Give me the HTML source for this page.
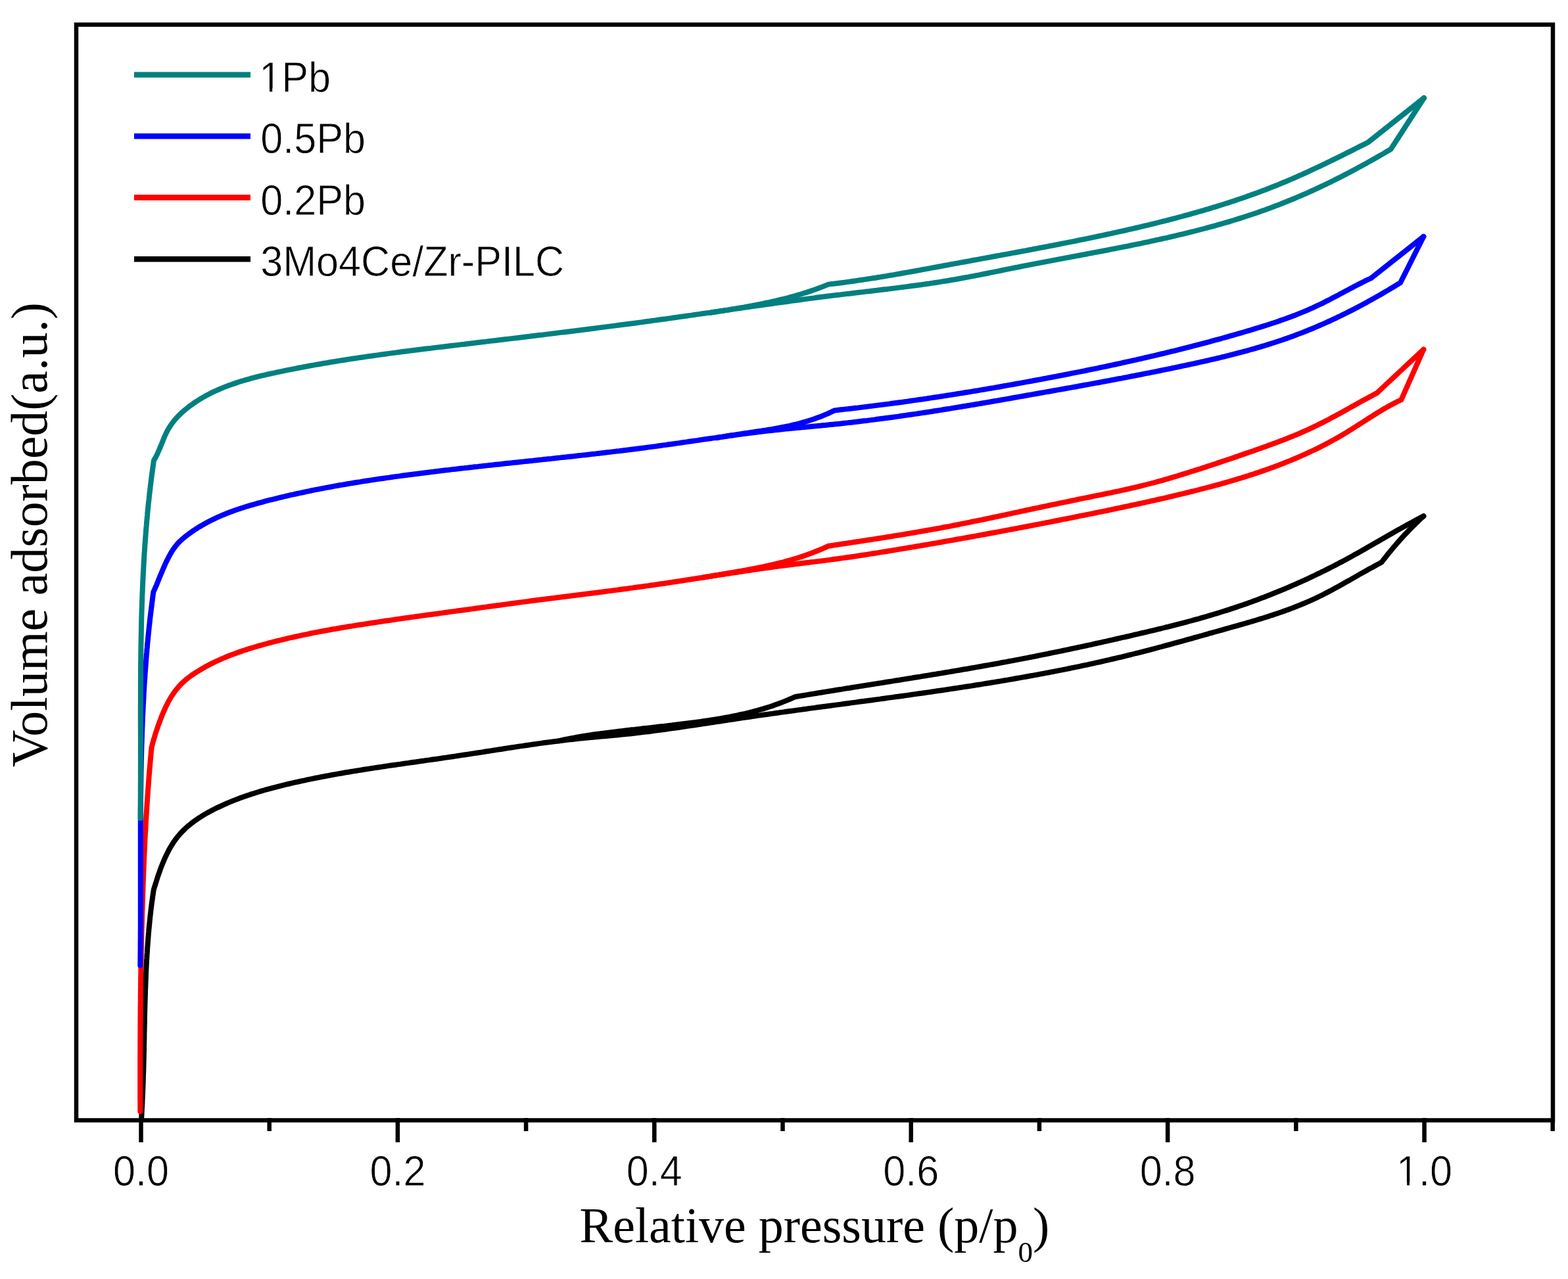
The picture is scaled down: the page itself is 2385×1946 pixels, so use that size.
<!DOCTYPE html>
<html><head><meta charset="utf-8"><title>N2 adsorption isotherms</title>
<style>
html,body{margin:0;padding:0;background:#fff;overflow:hidden;width:2385px;height:1946px;}
svg{display:block;}
.sans{font-family:"Liberation Sans",Arial,sans-serif;}
.serif{font-family:"Liberation Serif","Times New Roman",serif;}
</style></head><body>
<svg width="2385" height="1946" viewBox="0 0 2385 1946">
<rect width="2385" height="1946" fill="#fff"/>
<g fill="none" stroke-width="8" stroke-linejoin="round" stroke-linecap="round">
<path d="M215.0 1703.0L215.3 1699.0 215.5 1695.0 215.7 1691.0 215.9 1686.9 216.2 1682.9 216.4 1678.9 216.5 1674.9 216.7 1670.9 216.9 1666.9 217.1 1662.8 217.2 1658.8 217.4 1654.8 217.5 1650.8 217.7 1646.8 217.8 1642.7 217.9 1638.7 218.0 1634.7 218.2 1630.7 218.3 1626.7 218.4 1622.6 218.5 1618.6 218.6 1614.6 218.7 1610.6 218.8 1606.5 218.9 1602.5 219.0 1598.5 219.0 1594.5 219.1 1590.4 219.2 1586.4 219.3 1582.4 219.4 1578.4 219.4 1574.3 219.5 1570.3 219.6 1566.3 219.7 1562.2 219.8 1558.2 219.9 1554.2 219.9 1550.2 220.0 1546.1 220.1 1542.1 220.2 1538.1 220.3 1534.1 220.4 1530.0 220.5 1526.0 220.6 1522.0 220.8 1518.0 220.9 1513.9 221.0 1509.9 221.1 1505.9 221.3 1501.9 221.4 1497.9 221.6 1493.8 221.7 1489.8 221.9 1485.8 222.0 1481.8 222.2 1477.8 222.4 1473.7 222.6 1469.7 222.8 1465.7 223.0 1461.7 223.3 1457.7 223.5 1453.7 223.8 1449.7 224.0 1445.6 224.3 1441.6 224.6 1437.6 224.9 1433.6 225.2 1429.6 225.5 1425.6 225.8 1421.6 226.2 1417.6 226.5 1413.6 226.9 1409.6 227.3 1405.6 227.7 1401.6 228.1 1397.6 228.5 1393.6 229.0 1389.6 229.4 1385.6 229.9 1381.6 230.4 1377.6 230.9 1373.6 231.5 1369.6 232.0 1365.7 232.6 1361.7 233.2 1357.7 233.8 1353.7 234.9 1350.0 236.1 1346.2 237.3 1342.4 238.5 1338.6 239.7 1334.7 241.0 1330.9 242.4 1327.1 243.7 1323.3 245.1 1319.4 246.6 1315.6 248.1 1311.9 249.7 1308.1 251.4 1304.4 253.1 1300.8 254.9 1297.2 256.7 1293.6 258.7 1290.1 260.7 1286.7 262.8 1283.3 265.0 1280.0 267.3 1276.8 269.7 1273.7 272.2 1270.7 274.8 1267.7 277.5 1264.9 280.3 1262.1 283.2 1259.4 286.1 1256.8 289.2 1254.3 292.3 1251.9 295.4 1249.5 298.7 1247.2 302.0 1244.9 305.3 1242.8 308.7 1240.7 312.1 1238.6 315.6 1236.6 319.2 1234.7 322.7 1232.8 326.3 1231.0 329.9 1229.2 333.6 1227.5 337.2 1225.8 340.9 1224.1 344.6 1222.5 348.3 1220.9 352.0 1219.4 355.7 1217.9 359.4 1216.4 363.2 1215.0 366.9 1213.6 370.7 1212.3 374.5 1210.9 378.2 1209.7 382.0 1208.4 385.8 1207.2 389.7 1206.0 393.5 1204.8 397.3 1203.6 401.2 1202.5 405.0 1201.4 408.9 1200.3 412.7 1199.3 416.6 1198.3 420.4 1197.3 424.3 1196.3 428.2 1195.3 432.1 1194.3 436.0 1193.4 439.9 1192.5 443.8 1191.6 447.7 1190.7 451.6 1189.8 455.5 1189.0 459.4 1188.1 463.3 1187.3 467.2 1186.4 471.1 1185.6 475.0 1184.8 478.9 1184.0 482.9 1183.3 486.8 1182.5 490.7 1181.7 494.6 1181.0 498.6 1180.3 502.5 1179.5 506.4 1178.8 510.4 1178.1 514.3 1177.4 518.2 1176.7 522.2 1176.0 526.1 1175.3 530.0 1174.7 534.0 1174.0 537.9 1173.4 541.9 1172.7 545.8 1172.1 549.8 1171.5 553.7 1170.8 557.7 1170.2 561.6 1169.6 565.6 1169.0 569.5 1168.4 573.5 1167.8 577.4 1167.2 581.4 1166.6 585.4 1166.0 589.3 1165.4 593.3 1164.8 597.2 1164.3 601.2 1163.7 605.1 1163.1 609.1 1162.6 613.1 1162.0 617.0 1161.4 621.0 1160.9 625.0 1160.3 628.9 1159.7 632.9 1159.2 636.8 1158.6 640.8 1158.0 644.8 1157.5 648.7 1156.9 652.7 1156.4 656.7 1155.8 660.6 1155.2 664.6 1154.7 668.6 1154.1 672.5 1153.5 676.5 1152.9 680.4 1152.4 684.4 1151.8 688.4 1151.2 692.3 1150.6 696.3 1150.0 700.2 1149.4 704.2 1148.8 708.2 1148.2 712.1 1147.6 716.1 1147.0 720.0 1146.4 724.0 1145.8 727.9 1145.2 731.9 1144.6 735.8 1144.0 739.8 1143.3 743.8 1142.7 747.7 1142.1 751.7 1141.5 755.6 1140.9 759.6 1140.3 763.5 1139.7 767.5 1139.0 771.4 1138.4 775.4 1137.8 779.3 1137.2 783.3 1136.6 787.3 1136.0 791.2 1135.4 795.2 1134.9 799.1 1134.3 803.1 1133.7 807.0 1133.1 811.0 1132.5 815.0 1132.0 818.9 1131.4 822.9 1130.9 826.8 1130.3 830.8 1129.8 834.8 1129.3 838.7 1128.7 842.7 1128.2 846.7 1127.7 850.6 1127.2 854.6 1126.7 858.6 1126.3 862.5 1125.8 866.5 1125.3 870.5 1124.9 874.4 1124.5 878.4 1124.0 882.4 1123.6 886.4 1123.2 890.3 1122.8 894.3 1122.4 898.3 1122.1 902.3 1121.7 906.3 1121.3 910.2 1121.0 914.2 1120.6 918.2 1120.3 922.2 1119.9 926.2 1119.5 930.1 1119.2 934.1 1118.8 938.1 1118.4 942.1 1118.0 946.1 1117.6 950.0 1117.2 954.0 1116.8 958.0 1116.4 962.0 1116.0 965.9 1115.5 969.9 1115.1 973.9 1114.6 977.8 1114.1 981.8 1113.6 985.8 1113.2 989.7 1112.7 993.7 1112.1 997.7 1111.6 1001.6 1111.1 1005.6 1110.6 1009.6 1110.0 1013.5 1109.5 1017.5 1108.9 1021.5 1108.4 1025.4 1107.8 1029.4 1107.2 1033.3 1106.7 1037.3 1106.1 1041.3 1105.5 1045.2 1104.9 1049.2 1104.3 1053.1 1103.8 1057.1 1103.2 1061.0 1102.6 1065.0 1102.0 1069.0 1101.4 1072.9 1100.8 1076.9 1100.2 1080.8 1099.6 1084.8 1099.0 1088.7 1098.4 1092.7 1097.8 1096.7 1097.2 1100.6 1096.6 1104.6 1096.0 1108.5 1095.4 1112.5 1094.8 1116.5 1094.2 1120.4 1093.6 1124.4 1093.0 1128.3 1092.4 1132.3 1091.8 1136.2 1091.2 1140.2 1090.7 1144.2 1090.1 1148.1 1089.5 1152.1 1088.9 1156.0 1088.4 1160.0 1087.8 1164.0 1087.2 1167.9 1086.7 1171.9 1086.1 1175.9 1085.6 1179.8 1085.0 1183.8 1084.5 1187.7 1083.9 1191.7 1083.4 1195.7 1082.8 1199.6 1082.3 1203.6 1081.7 1207.6 1081.2 1211.5 1080.6 1215.5 1080.1 1219.4 1079.6 1223.4 1079.0 1227.4 1078.5 1231.3 1077.9 1235.3 1077.4 1239.3 1076.9 1243.2 1076.3 1247.2 1075.8 1251.1 1075.3 1255.1 1074.7 1259.1 1074.2 1263.0 1073.7 1267.0 1073.1 1271.0 1072.6 1274.9 1072.1 1278.9 1071.6 1282.9 1071.0 1286.8 1070.5 1290.8 1070.0 1294.8 1069.4 1298.7 1068.9 1302.7 1068.4 1306.6 1067.8 1310.6 1067.3 1314.6 1066.8 1318.5 1066.2 1322.5 1065.7 1326.5 1065.2 1330.4 1064.6 1334.4 1064.1 1338.4 1063.6 1342.3 1063.0 1346.3 1062.5 1350.2 1061.9 1354.2 1061.4 1358.2 1060.9 1362.1 1060.3 1366.1 1059.8 1370.1 1059.2 1374.0 1058.7 1378.0 1058.1 1381.9 1057.6 1385.9 1057.0 1389.9 1056.4 1393.8 1055.9 1397.8 1055.3 1401.8 1054.8 1405.7 1054.2 1409.7 1053.6 1413.6 1053.1 1417.6 1052.5 1421.6 1051.9 1425.5 1051.3 1429.5 1050.8 1433.4 1050.2 1437.4 1049.6 1441.4 1049.0 1445.3 1048.4 1449.3 1047.8 1453.2 1047.2 1457.2 1046.6 1461.1 1046.0 1465.1 1045.4 1469.1 1044.8 1473.0 1044.2 1477.0 1043.6 1480.9 1043.0 1484.9 1042.3 1488.8 1041.7 1492.8 1041.1 1496.7 1040.4 1500.7 1039.8 1504.6 1039.2 1508.6 1038.5 1512.5 1037.9 1516.5 1037.2 1520.4 1036.6 1524.4 1035.9 1528.3 1035.2 1532.3 1034.6 1536.2 1033.9 1540.2 1033.2 1544.1 1032.5 1548.1 1031.8 1552.0 1031.1 1556.0 1030.4 1559.9 1029.7 1563.8 1029.0 1567.8 1028.3 1571.7 1027.6 1575.7 1026.9 1579.6 1026.2 1583.5 1025.4 1587.5 1024.7 1591.4 1023.9 1595.3 1023.2 1599.3 1022.4 1603.2 1021.7 1607.1 1020.9 1611.0 1020.1 1615.0 1019.4 1618.9 1018.6 1622.8 1017.8 1626.7 1017.0 1630.6 1016.2 1634.6 1015.4 1638.5 1014.6 1642.4 1013.8 1646.3 1012.9 1650.2 1012.1 1654.1 1011.3 1658.0 1010.4 1662.0 1009.6 1665.9 1008.7 1669.8 1007.8 1673.7 1007.0 1677.6 1006.1 1681.5 1005.2 1685.4 1004.3 1689.3 1003.4 1693.2 1002.5 1697.0 1001.6 1700.9 1000.7 1704.8 999.8 1708.7 998.8 1712.6 997.9 1716.5 996.9 1720.4 996.0 1724.2 995.0 1728.1 994.0 1732.0 993.1 1735.9 992.1 1739.7 991.1 1743.6 990.1 1747.5 989.1 1751.3 988.1 1755.2 987.1 1759.1 986.0 1762.9 985.0 1766.8 984.0 1770.7 982.9 1774.5 981.9 1778.4 980.8 1782.2 979.8 1786.1 978.7 1790.0 977.7 1793.8 976.6 1797.7 975.6 1801.5 974.5 1805.4 973.4 1809.2 972.4 1813.1 971.3 1816.9 970.2 1820.8 969.1 1824.7 968.0 1828.5 967.0 1832.4 965.9 1836.2 964.8 1840.1 963.7 1843.9 962.6 1847.8 961.5 1851.6 960.5 1855.5 959.4 1859.4 958.3 1863.2 957.2 1867.1 956.1 1870.9 955.0 1874.8 953.9 1878.6 952.9 1882.5 951.8 1886.4 950.7 1890.2 949.6 1894.1 948.5 1897.9 947.4 1901.8 946.2 1905.6 945.1 1909.5 944.0 1913.3 942.8 1917.1 941.6 1920.9 940.5 1924.8 939.3 1928.6 938.1 1932.4 936.8 1936.2 935.6 1940.0 934.3 1943.8 933.1 1947.5 931.8 1951.3 930.4 1955.1 929.1 1958.8 927.7 1962.6 926.4 1966.3 924.9 1970.0 923.5 1973.7 922.0 1977.4 920.6 1981.1 919.0 1984.8 917.5 1988.5 915.9 1992.1 914.3 1995.8 912.7 1999.4 911.0 2003.0 909.3 2006.6 907.5 2010.2 905.8 2013.8 904.0 2017.3 902.1 2020.9 900.3 2024.4 898.4 2028.0 896.5 2031.5 894.6 2035.0 892.7 2038.5 890.7 2042.0 888.8 2045.5 886.8 2049.0 884.8 2052.5 882.9 2056.0 880.9 2059.5 878.9 2063.0 876.9 2066.4 874.9 2069.9 872.9 2073.4 871.0 2076.9 869.0 2080.4 867.0 2083.9 865.1 2087.4 863.2 2090.9 861.2 2094.4 859.3 2097.9 857.5 2101.4 855.6 2103.9 852.3 2106.5 849.1 2109.0 845.8 2111.6 842.6 2114.2 839.4 2116.8 836.2 2119.5 833.0 2122.2 829.9 2124.9 826.7 2127.6 823.6 2130.4 820.5 2133.1 817.5 2135.9 814.4 2138.8 811.4 2141.6 808.4 2144.5 805.4 2147.4 802.5 2150.3 799.6 2153.3 796.7 2156.2 793.8 2159.2 790.9 2162.3 788.1 2165.3 785.3" stroke="#000000"/>
<path d="M2165.3 785.3L2161.7 787.1 2158.2 789.0 2154.6 790.9 2151.1 792.8 2147.6 794.7 2144.1 796.6 2140.5 798.5 2137.0 800.4 2133.5 802.4 2130.0 804.4 2126.5 806.3 2123.0 808.3 2119.6 810.3 2116.1 812.3 2112.6 814.3 2109.1 816.3 2105.6 818.3 2102.1 820.3 2098.7 822.3 2095.2 824.3 2091.7 826.3 2088.2 828.3 2084.7 830.3 2081.2 832.3 2077.8 834.3 2074.3 836.3 2070.8 838.3 2067.3 840.2 2063.8 842.2 2060.3 844.1 2056.8 846.1 2053.3 848.0 2049.7 850.0 2046.2 851.9 2042.7 853.8 2039.1 855.6 2035.6 857.5 2032.0 859.4 2028.5 861.2 2024.9 863.0 2021.3 864.9 2017.7 866.7 2014.2 868.5 2010.6 870.2 2007.0 872.0 2003.3 873.7 1999.7 875.5 1996.1 877.2 1992.5 878.9 1988.9 880.6 1985.2 882.3 1981.6 883.9 1977.9 885.6 1974.3 887.2 1970.6 888.8 1966.9 890.4 1963.3 892.0 1959.6 893.6 1955.9 895.2 1952.2 896.7 1948.5 898.3 1944.8 899.8 1941.1 901.3 1937.4 902.8 1933.7 904.3 1929.9 905.8 1926.2 907.2 1922.5 908.7 1918.7 910.1 1915.0 911.5 1911.2 912.9 1907.5 914.3 1903.7 915.7 1899.9 917.0 1896.2 918.4 1892.4 919.7 1888.6 921.0 1884.8 922.3 1881.0 923.6 1877.2 924.9 1873.4 926.1 1869.6 927.4 1865.8 928.6 1862.0 929.8 1858.1 931.0 1854.3 932.2 1850.5 933.4 1846.6 934.5 1842.8 935.7 1838.9 936.8 1835.1 938.0 1831.2 939.1 1827.4 940.2 1823.5 941.3 1819.6 942.3 1815.8 943.4 1811.9 944.5 1808.0 945.5 1804.1 946.6 1800.3 947.6 1796.4 948.6 1792.5 949.6 1788.6 950.6 1784.7 951.6 1780.8 952.6 1776.9 953.6 1773.0 954.5 1769.1 955.5 1765.2 956.5 1761.3 957.4 1757.4 958.4 1753.5 959.3 1749.6 960.2 1745.7 961.2 1741.8 962.1 1737.8 963.0 1733.9 963.9 1730.0 964.8 1726.1 965.7 1722.2 966.7 1718.3 967.6 1714.4 968.5 1710.5 969.4 1706.5 970.2 1702.6 971.1 1698.7 972.0 1694.8 972.9 1690.9 973.8 1687.0 974.7 1683.1 975.6 1679.1 976.4 1675.2 977.3 1671.3 978.2 1667.4 979.0 1663.5 979.9 1659.6 980.8 1655.7 981.6 1651.7 982.5 1647.8 983.3 1643.9 984.2 1640.0 985.0 1636.1 985.8 1632.1 986.7 1628.2 987.5 1624.3 988.3 1620.4 989.2 1616.5 990.0 1612.5 990.8 1608.6 991.6 1604.7 992.4 1600.8 993.2 1596.8 994.0 1592.9 994.8 1589.0 995.6 1585.1 996.4 1581.1 997.2 1577.2 998.0 1573.3 998.8 1569.3 999.6 1565.4 1000.3 1561.5 1001.1 1557.5 1001.9 1553.6 1002.6 1549.7 1003.4 1545.7 1004.1 1541.8 1004.9 1537.9 1005.6 1533.9 1006.3 1530.0 1007.1 1526.0 1007.8 1522.1 1008.5 1518.1 1009.3 1514.2 1010.0 1510.3 1010.7 1506.3 1011.4 1502.4 1012.1 1498.4 1012.8 1494.5 1013.5 1490.5 1014.2 1486.6 1014.9 1482.6 1015.6 1478.7 1016.3 1474.7 1017.0 1470.7 1017.7 1466.8 1018.3 1462.8 1019.0 1458.9 1019.7 1454.9 1020.4 1451.0 1021.0 1447.0 1021.7 1443.1 1022.4 1439.1 1023.0 1435.1 1023.7 1431.2 1024.4 1427.2 1025.0 1423.3 1025.7 1419.3 1026.3 1415.3 1027.0 1411.4 1027.6 1407.4 1028.3 1403.5 1028.9 1399.5 1029.6 1395.5 1030.2 1391.6 1030.8 1387.6 1031.5 1383.6 1032.1 1379.7 1032.8 1375.7 1033.4 1371.8 1034.0 1367.8 1034.7 1363.8 1035.3 1359.9 1035.9 1355.9 1036.6 1351.9 1037.2 1348.0 1037.8 1344.0 1038.5 1340.0 1039.1 1336.1 1039.7 1332.1 1040.4 1328.2 1041.0 1324.2 1041.6 1320.2 1042.3 1316.3 1042.9 1312.3 1043.5 1308.3 1044.1 1304.4 1044.8 1300.4 1045.4 1296.5 1046.0 1292.5 1046.7 1288.5 1047.3 1284.6 1047.9 1280.6 1048.6 1276.6 1049.2 1272.7 1049.8 1268.7 1050.5 1264.8 1051.1 1260.8 1051.8 1256.9 1052.4 1252.9 1053.0 1248.9 1053.7 1245.0 1054.3 1241.0 1055.0 1237.1 1055.6 1233.1 1056.3 1229.2 1056.9 1225.2 1057.6 1221.3 1058.2 1217.3 1058.9 1213.4 1059.5 1209.4 1060.2 1205.7 1061.9 1202.0 1063.5 1198.2 1065.1 1194.5 1066.6 1190.7 1068.1 1187.0 1069.6 1183.2 1071.0 1179.4 1072.3 1175.6 1073.7 1171.8 1075.0 1167.9 1076.2 1164.1 1077.4 1160.3 1078.6 1156.4 1079.7 1152.5 1080.8 1148.6 1081.8 1144.8 1082.9 1140.9 1083.9 1137.0 1084.8 1133.1 1085.8 1129.1 1086.7 1125.2 1087.5 1121.3 1088.4 1117.3 1089.2 1113.4 1090.0 1109.4 1090.8 1105.5 1091.5 1101.5 1092.2 1097.5 1092.9 1093.6 1093.6 1089.6 1094.3 1085.6 1094.9 1081.6 1095.5 1077.6 1096.1 1073.7 1096.7 1069.7 1097.3 1065.7 1097.9 1061.7 1098.4 1057.7 1099.0 1053.7 1099.5 1049.6 1100.0 1045.6 1100.5 1041.6 1101.0 1037.6 1101.5 1033.6 1102.0 1029.6 1102.5 1025.6 1103.0 1021.6 1103.5 1017.6 1103.9 1013.6 1104.4 1009.6 1104.9 1005.5 1105.3 1001.5 1105.8 997.5 1106.3 993.5 1106.7 989.5 1107.2 985.5 1107.6 981.5 1108.1 977.5 1108.5 973.5 1109.0 969.4 1109.4 965.4 1109.9 961.4 1110.3 957.4 1110.8 953.4 1111.2 949.4 1111.7 945.4 1112.2 941.4 1112.6 937.4 1113.1 933.4 1113.6 929.4 1114.1 925.4 1114.6 921.4 1115.1 917.4 1115.6 913.4 1116.1 909.4 1116.6 905.4 1117.2 901.5 1117.8 897.5 1118.4 893.5 1119.0 889.5 1119.6 885.6 1120.3 881.6 1120.9 877.6 1121.6 873.7 1122.4 869.7 1123.1 865.8 1123.9 861.8 1124.7 857.9 1125.5 853.9 1126.4 850.0 1127.3" stroke="#000000"/>
<path d="M213.3 1691.0L213.3 1687.0 213.3 1683.0 213.3 1679.0 213.3 1674.9 213.2 1670.9 213.2 1666.9 213.2 1662.9 213.2 1658.9 213.2 1654.9 213.2 1650.8 213.2 1646.8 213.2 1642.8 213.2 1638.8 213.2 1634.8 213.2 1630.7 213.2 1626.7 213.2 1622.7 213.2 1618.7 213.2 1614.7 213.2 1610.7 213.2 1606.6 213.2 1602.6 213.3 1598.6 213.3 1594.6 213.3 1590.6 213.3 1586.5 213.3 1582.5 213.3 1578.5 213.4 1574.5 213.4 1570.5 213.4 1566.5 213.4 1562.4 213.4 1558.4 213.5 1554.4 213.5 1550.4 213.5 1546.4 213.6 1542.3 213.6 1538.3 213.6 1534.3 213.7 1530.3 213.7 1526.3 213.8 1522.2 213.8 1518.2 213.8 1514.2 213.9 1510.2 213.9 1506.2 214.0 1502.2 214.0 1498.1 214.1 1494.1 214.1 1490.1 214.2 1486.1 214.3 1482.1 214.3 1478.0 214.4 1474.0 214.5 1470.0 214.5 1466.0 214.6 1462.0 214.7 1457.9 214.7 1453.9 214.8 1449.9 214.9 1445.9 215.0 1441.9 215.1 1437.9 215.1 1433.8 215.2 1429.8 215.3 1425.8 215.4 1421.8 215.5 1417.8 215.6 1413.7 215.7 1409.7 215.8 1405.7 215.9 1401.7 216.0 1397.7 216.1 1393.7 216.2 1389.6 216.3 1385.6 216.5 1381.6 216.6 1377.6 216.7 1373.6 216.8 1369.5 217.0 1365.5 217.1 1361.5 217.2 1357.5 217.4 1353.5 217.5 1349.5 217.6 1345.5 217.8 1341.4 217.9 1337.4 218.1 1333.4 218.2 1329.4 218.4 1325.4 218.6 1321.4 218.7 1317.3 218.9 1313.3 219.0 1309.3 219.2 1305.3 219.4 1301.3 219.6 1297.3 219.8 1293.3 219.9 1289.2 220.1 1285.2 220.3 1281.2 220.5 1277.2 220.7 1273.2 220.9 1269.2 221.2 1265.2 221.4 1261.2 221.6 1257.2 221.8 1253.1 222.0 1249.1 222.3 1245.1 222.5 1241.1 222.8 1237.1 223.0 1233.1 223.3 1229.1 223.5 1225.1 223.8 1221.1 224.0 1217.1 224.3 1213.1 224.6 1209.0 224.9 1205.0 225.2 1201.0 225.5 1197.0 225.8 1193.0 226.1 1189.0 226.4 1185.0 226.7 1181.0 227.0 1177.0 227.4 1173.0 227.7 1169.0 228.0 1165.0 228.4 1161.0 228.7 1157.0 229.1 1153.0 229.5 1149.0 229.8 1145.0 230.2 1141.0 230.6 1137.0 231.6 1133.2 232.6 1129.3 233.7 1125.5 234.9 1121.7 236.0 1117.9 237.2 1114.1 238.5 1110.3 239.8 1106.5 241.1 1102.7 242.5 1099.0 243.9 1095.2 245.3 1091.5 246.8 1087.7 248.4 1084.0 250.0 1080.3 251.6 1076.7 253.4 1073.0 255.2 1069.4 257.1 1065.9 259.1 1062.4 261.2 1059.0 263.4 1055.7 265.7 1052.4 268.1 1049.3 270.6 1046.2 273.3 1043.2 276.0 1040.3 278.9 1037.6 281.8 1034.9 284.9 1032.4 288.1 1030.0 291.3 1027.6 294.6 1025.4 298.0 1023.2 301.3 1021.1 304.8 1019.0 308.2 1017.0 311.7 1015.0 315.2 1013.1 318.7 1011.2 322.3 1009.4 325.8 1007.7 329.4 1006.0 333.1 1004.3 336.7 1002.7 340.4 1001.1 344.1 999.5 347.8 998.0 351.5 996.6 355.3 995.2 359.1 993.8 362.8 992.4 366.6 991.1 370.4 989.8 374.3 988.6 378.1 987.3 381.9 986.1 385.8 985.0 389.6 983.8 393.5 982.7 397.4 981.6 401.3 980.5 405.1 979.5 409.0 978.4 412.9 977.4 416.8 976.4 420.7 975.4 424.6 974.5 428.5 973.5 432.4 972.6 436.3 971.6 440.2 970.7 444.1 969.9 448.0 969.0 451.9 968.1 455.8 967.3 459.7 966.4 463.6 965.6 467.5 964.8 471.4 964.0 475.3 963.2 479.3 962.4 483.2 961.7 487.1 960.9 491.0 960.2 494.9 959.5 498.9 958.8 502.8 958.0 506.7 957.3 510.7 956.7 514.6 956.0 518.5 955.3 522.5 954.6 526.4 954.0 530.3 953.3 534.3 952.7 538.2 952.1 542.2 951.4 546.1 950.8 550.1 950.2 554.0 949.6 558.0 949.0 561.9 948.4 565.9 947.8 569.8 947.2 573.8 946.6 577.7 946.0 581.7 945.4 585.6 944.8 589.6 944.2 593.6 943.7 597.5 943.1 601.5 942.5 605.5 941.9 609.4 941.4 613.4 940.8 617.3 940.3 621.3 939.7 625.3 939.1 629.2 938.6 633.2 938.0 637.2 937.5 641.2 936.9 645.1 936.4 649.1 935.8 653.1 935.3 657.0 934.7 661.0 934.2 665.0 933.7 668.9 933.1 672.9 932.6 676.9 932.0 680.8 931.5 684.8 930.9 688.8 930.4 692.8 929.9 696.7 929.3 700.7 928.8 704.7 928.2 708.6 927.7 712.6 927.2 716.6 926.6 720.5 926.1 724.5 925.5 728.4 925.0 732.4 924.4 736.4 923.9 740.3 923.4 744.3 922.8 748.3 922.3 752.2 921.7 756.2 921.2 760.2 920.7 764.1 920.1 768.1 919.6 772.0 919.1 776.0 918.5 780.0 918.0 783.9 917.5 787.9 916.9 791.9 916.4 795.8 915.9 799.8 915.4 803.8 914.9 807.7 914.3 811.7 913.8 815.7 913.3 819.6 912.8 823.6 912.3 827.6 911.8 831.5 911.3 835.5 910.8 839.5 910.3 843.5 909.8 847.4 909.2 851.4 908.7 855.4 908.2 859.3 907.7 863.3 907.2 867.3 906.7 871.3 906.2 875.2 905.7 879.2 905.2 883.2 904.7 887.1 904.2 891.1 903.7 895.1 903.2 899.1 902.7 903.0 902.2 907.0 901.7 911.0 901.2 915.0 900.7 918.9 900.2 922.9 899.6 926.9 899.1 930.8 898.6 934.8 898.1 938.8 897.6 942.7 897.0 946.7 896.5 950.7 896.0 954.7 895.5 958.6 894.9 962.6 894.4 966.6 893.8 970.5 893.3 974.5 892.7 978.5 892.2 982.4 891.6 986.4 891.1 990.3 890.5 994.3 890.0 998.3 889.4 1002.2 888.8 1006.2 888.2 1010.2 887.7 1014.1 887.1 1018.1 886.5 1022.0 885.9 1026.0 885.3 1030.0 884.7 1033.9 884.1 1037.9 883.5 1041.8 882.9 1045.8 882.3 1049.7 881.7 1053.7 881.0 1057.6 880.4 1061.6 879.8 1065.6 879.2 1069.5 878.6 1073.5 878.0 1077.4 877.4 1081.4 876.7 1085.3 876.1 1089.3 875.5 1093.2 874.9 1097.2 874.3 1101.2 873.7 1105.1 873.1 1109.1 872.5 1113.0 871.9 1117.0 871.3 1120.9 870.7 1124.9 870.1 1128.8 869.5 1132.8 868.9 1136.8 868.3 1140.7 867.7 1144.7 867.1 1148.6 866.5 1152.6 866.0 1156.6 865.4 1160.5 864.8 1164.5 864.3 1168.4 863.7 1172.4 863.2 1176.4 862.6 1180.3 862.1 1184.3 861.5 1188.3 861.0 1192.2 860.5 1196.2 860.0 1200.2 859.5 1204.1 859.0 1208.1 858.5 1212.1 858.0 1216.1 857.5 1220.0 857.0 1224.0 856.5 1228.0 856.0 1232.0 855.5 1235.9 855.1 1239.9 854.6 1243.9 854.1 1247.8 853.6 1251.8 853.1 1255.8 852.6 1259.8 852.1 1263.7 851.6 1267.7 851.0 1271.7 850.5 1275.6 850.0 1279.6 849.4 1283.5 848.9 1287.5 848.3 1291.5 847.7 1295.4 847.2 1299.4 846.6 1303.3 846.0 1307.3 845.4 1311.3 844.8 1315.2 844.2 1319.2 843.6 1323.1 842.9 1327.1 842.3 1331.0 841.7 1335.0 841.1 1338.9 840.4 1342.9 839.8 1346.8 839.2 1350.8 838.5 1354.7 837.9 1358.7 837.2 1362.6 836.6 1366.6 835.9 1370.5 835.3 1374.5 834.6 1378.4 834.0 1382.4 833.3 1386.3 832.6 1390.3 832.0 1394.2 831.3 1398.2 830.6 1402.1 830.0 1406.1 829.3 1410.0 828.6 1414.0 827.9 1417.9 827.3 1421.9 826.6 1425.8 825.9 1429.7 825.2 1433.7 824.5 1437.6 823.8 1441.6 823.1 1445.5 822.4 1449.5 821.7 1453.4 821.0 1457.3 820.3 1461.3 819.6 1465.2 818.9 1469.2 818.2 1473.1 817.5 1477.1 816.8 1481.0 816.1 1484.9 815.4 1488.9 814.7 1492.8 813.9 1496.7 813.2 1500.7 812.5 1504.6 811.8 1508.6 811.0 1512.5 810.3 1516.4 809.6 1520.4 808.9 1524.3 808.1 1528.2 807.4 1532.2 806.6 1536.1 805.9 1540.0 805.2 1544.0 804.4 1547.9 803.7 1551.8 802.9 1555.8 802.2 1559.7 801.4 1563.6 800.7 1567.6 799.9 1571.5 799.2 1575.4 798.4 1579.4 797.6 1583.3 796.9 1587.2 796.1 1591.1 795.3 1595.1 794.6 1599.0 793.8 1602.9 793.0 1606.8 792.3 1610.8 791.5 1614.7 790.7 1618.6 789.9 1622.5 789.2 1626.5 788.4 1630.4 787.6 1634.3 786.8 1638.2 786.0 1642.2 785.2 1646.1 784.4 1650.0 783.7 1653.9 782.9 1657.8 782.1 1661.8 781.3 1665.7 780.5 1669.6 779.7 1673.5 778.9 1677.4 778.1 1681.4 777.3 1685.3 776.5 1689.2 775.7 1693.1 774.8 1697.0 774.0 1700.9 773.2 1704.8 772.4 1708.8 771.5 1712.7 770.7 1716.6 769.9 1720.5 769.0 1724.4 768.2 1728.3 767.4 1732.2 766.5 1736.1 765.7 1740.0 764.8 1744.0 763.9 1747.9 763.1 1751.8 762.2 1755.7 761.3 1759.6 760.4 1763.5 759.5 1767.4 758.7 1771.3 757.8 1775.2 756.9 1779.1 755.9 1783.0 755.0 1786.9 754.1 1790.8 753.2 1794.7 752.2 1798.6 751.3 1802.5 750.4 1806.4 749.4 1810.3 748.4 1814.2 747.5 1818.1 746.5 1822.0 745.5 1825.8 744.5 1829.7 743.5 1833.6 742.5 1837.5 741.5 1841.4 740.5 1845.3 739.4 1849.1 738.4 1853.0 737.3 1856.9 736.3 1860.7 735.2 1864.6 734.1 1868.4 733.0 1872.3 731.9 1876.1 730.7 1880.0 729.6 1883.8 728.4 1887.7 727.3 1891.5 726.1 1895.3 724.9 1899.1 723.7 1902.9 722.4 1906.8 721.2 1910.6 719.9 1914.3 718.7 1918.1 717.4 1921.9 716.1 1925.7 714.8 1929.5 713.4 1933.2 712.1 1937.0 710.7 1940.7 709.3 1944.5 707.9 1948.2 706.5 1951.9 705.0 1955.6 703.5 1959.3 702.1 1963.0 700.6 1966.7 699.0 1970.4 697.5 1974.1 695.9 1977.7 694.3 1981.4 692.7 1985.0 691.1 1988.7 689.4 1992.3 687.7 1995.9 686.0 1999.5 684.3 2003.1 682.6 2006.7 680.8 2010.2 679.0 2013.8 677.2 2017.3 675.3 2020.9 673.5 2024.4 671.6 2027.9 669.6 2031.4 667.7 2034.9 665.7 2038.4 663.7 2041.8 661.7 2045.3 659.6 2048.7 657.6 2052.1 655.4 2055.5 653.3 2058.9 651.2 2062.3 649.0 2065.7 646.8 2069.1 644.7 2072.5 642.5 2075.9 640.3 2079.3 638.1 2082.7 635.9 2086.1 633.8 2089.5 631.6 2092.9 629.5 2096.3 627.4 2099.7 625.3 2103.1 623.3 2106.6 621.2 2110.1 619.3 2113.6 617.3 2117.1 615.4 2120.6 613.6 2124.1 611.7 2127.7 610.0 2131.3 608.3 2165.3 531.7" stroke="#FF0000"/>
<path d="M2165.3 531.7L2094.5 597.9 2090.9 599.8 2087.4 601.7 2083.8 603.6 2080.3 605.5 2076.8 607.4 2073.3 609.3 2069.7 611.3 2066.2 613.2 2062.7 615.2 2059.2 617.2 2055.7 619.1 2052.2 621.1 2048.7 623.0 2045.2 625.0 2041.7 626.9 2038.1 628.9 2034.6 630.8 2031.1 632.7 2027.6 634.6 2024.0 636.5 2020.5 638.4 2016.9 640.3 2013.4 642.1 2009.8 643.9 2006.2 645.7 2002.6 647.5 1999.0 649.2 1995.4 650.9 1991.8 652.6 1988.1 654.3 1984.5 655.9 1980.8 657.5 1977.2 659.1 1973.5 660.7 1969.8 662.2 1966.1 663.8 1962.3 665.3 1958.6 666.7 1954.9 668.2 1951.1 669.7 1947.4 671.1 1943.6 672.5 1939.9 673.9 1936.1 675.3 1932.3 676.7 1928.6 678.1 1924.8 679.5 1921.0 680.8 1917.2 682.2 1913.4 683.5 1909.6 684.8 1905.8 686.2 1902.0 687.5 1898.2 688.8 1894.4 690.1 1890.6 691.4 1886.8 692.7 1883.0 694.1 1879.2 695.4 1875.4 696.7 1871.6 698.0 1867.8 699.3 1864.0 700.5 1860.1 701.8 1856.3 703.1 1852.5 704.4 1848.7 705.7 1844.9 706.9 1841.0 708.2 1837.2 709.4 1833.4 710.7 1829.6 711.9 1825.8 713.2 1821.9 714.4 1818.1 715.6 1814.3 716.8 1810.4 718.0 1806.6 719.3 1802.8 720.4 1798.9 721.6 1795.1 722.8 1791.3 724.0 1787.4 725.1 1783.6 726.3 1779.7 727.4 1775.9 728.6 1772.0 729.7 1768.2 730.8 1764.3 731.9 1760.4 732.9 1756.6 734.0 1752.7 735.0 1748.8 736.0 1744.9 737.0 1741.0 738.0 1737.2 739.0 1733.3 739.9 1729.4 740.9 1725.5 741.8 1721.5 742.7 1717.6 743.6 1713.7 744.5 1709.8 745.3 1705.9 746.2 1702.0 747.1 1698.0 747.9 1694.1 748.7 1690.2 749.6 1686.2 750.4 1682.3 751.2 1678.4 752.0 1674.4 752.8 1670.5 753.6 1666.6 754.4 1662.6 755.2 1658.7 756.0 1654.8 756.8 1650.8 757.6 1646.9 758.4 1642.9 759.2 1639.0 760.0 1635.1 760.8 1631.1 761.6 1627.2 762.5 1623.3 763.3 1619.3 764.1 1615.4 764.9 1611.5 765.7 1607.5 766.6 1603.6 767.4 1599.7 768.2 1595.7 769.0 1591.8 769.9 1587.9 770.7 1583.9 771.5 1580.0 772.4 1576.1 773.2 1572.1 774.0 1568.2 774.9 1564.3 775.7 1560.3 776.5 1556.4 777.4 1552.5 778.2 1548.6 779.1 1544.6 779.9 1540.7 780.7 1536.8 781.6 1532.8 782.4 1528.9 783.3 1525.0 784.1 1521.1 785.0 1517.1 785.8 1513.2 786.6 1509.3 787.5 1505.3 788.3 1501.4 789.1 1497.5 790.0 1493.6 790.8 1489.6 791.6 1485.7 792.4 1481.8 793.2 1477.8 794.0 1473.9 794.8 1470.0 795.6 1466.0 796.4 1462.1 797.2 1458.1 798.0 1454.2 798.8 1450.3 799.5 1446.3 800.3 1442.4 801.1 1438.4 801.8 1434.5 802.5 1430.5 803.3 1426.6 804.0 1422.6 804.7 1418.7 805.4 1414.7 806.1 1410.8 806.8 1406.8 807.5 1402.8 808.2 1398.9 808.9 1394.9 809.6 1391.0 810.3 1387.0 811.0 1383.1 811.6 1379.1 812.3 1375.1 813.0 1371.2 813.6 1367.2 814.3 1363.2 814.9 1359.3 815.5 1355.3 816.2 1351.3 816.8 1347.4 817.5 1343.4 818.1 1339.4 818.7 1335.5 819.3 1331.5 820.0 1327.5 820.6 1323.5 821.2 1319.6 821.8 1315.6 822.4 1311.6 823.0 1307.7 823.6 1303.7 824.2 1299.7 824.8 1295.7 825.4 1291.8 826.0 1287.8 826.6 1283.8 827.2 1279.9 827.8 1275.9 828.4 1271.9 829.0 1267.9 829.6 1264.0 830.2 1260.0 830.8 1256.3 832.5 1252.6 834.2 1248.9 835.8 1245.2 837.3 1241.5 838.8 1237.7 840.3 1234.0 841.7 1230.2 843.1 1226.4 844.5 1222.7 845.8 1218.9 847.1 1215.0 848.3 1211.2 849.5 1207.4 850.6 1203.5 851.8 1199.7 852.9 1195.8 853.9 1192.0 855.0 1188.1 856.0 1184.2 856.9 1180.3 857.9 1176.4 858.8 1172.5 859.7 1168.6 860.6 1164.7 861.5 1160.8 862.3 1156.9 863.1 1152.9 863.9 1149.0 864.7 1145.1 865.4 1141.1 866.2 1137.2 866.9 1133.2 867.7 1129.3 868.4 1125.3 869.1 1121.4 869.8 1117.4 870.4 1113.5 871.1 1109.5 871.8 1105.6 872.5 1101.6 873.1 1097.7 873.8 1093.7 874.5 1089.7 875.1 1085.8 875.8 1081.8 876.5 1077.9 877.1 1073.9 877.8 1070.0 878.5" stroke="#FF0000"/>
<path d="M213.3 1469.0L213.4 1465.0 213.4 1461.0 213.4 1457.0 213.5 1453.0 213.5 1449.0 213.6 1445.0 213.6 1441.0 213.6 1437.0 213.6 1433.0 213.7 1429.0 213.7 1425.0 213.7 1421.0 213.7 1417.0 213.8 1413.0 213.8 1408.9 213.8 1404.9 213.8 1400.9 213.8 1396.9 213.8 1392.9 213.8 1388.9 213.8 1384.9 213.8 1380.9 213.8 1376.9 213.8 1372.9 213.8 1368.9 213.8 1364.9 213.8 1360.9 213.8 1356.8 213.8 1352.8 213.8 1348.8 213.8 1344.8 213.8 1340.8 213.8 1336.8 213.8 1332.8 213.8 1328.8 213.8 1324.8 213.8 1320.7 213.8 1316.7 213.8 1312.7 213.8 1308.7 213.8 1304.7 213.8 1300.7 213.8 1296.7 213.8 1292.7 213.8 1288.7 213.8 1284.6 213.8 1280.6 213.8 1276.6 213.8 1272.6 213.8 1268.6 213.8 1264.6 213.8 1260.6 213.8 1256.6 213.8 1252.5 213.8 1248.5 213.9 1244.5 213.9 1240.5 213.9 1236.5 213.9 1232.5 213.9 1228.5 214.0 1224.5 214.0 1220.5 214.0 1216.4 214.1 1212.4 214.1 1208.4 214.2 1204.4 214.2 1200.4 214.3 1196.4 214.3 1192.4 214.4 1188.4 214.4 1184.4 214.5 1180.4 214.5 1176.3 214.6 1172.3 214.7 1168.3 214.8 1164.3 214.8 1160.3 214.9 1156.3 215.0 1152.3 215.1 1148.3 215.2 1144.3 215.3 1140.3 215.4 1136.3 215.5 1132.3 215.7 1128.2 215.8 1124.2 215.9 1120.2 216.0 1116.2 216.2 1112.2 216.3 1108.2 216.5 1104.2 216.6 1100.2 216.8 1096.2 216.9 1092.2 217.1 1088.2 217.3 1084.2 217.5 1080.2 217.7 1076.2 217.9 1072.2 218.1 1068.2 218.3 1064.2 218.5 1060.2 218.7 1056.2 218.9 1052.2 219.2 1048.2 219.4 1044.2 219.6 1040.2 219.9 1036.2 220.2 1032.2 220.4 1028.2 220.7 1024.2 221.0 1020.2 221.3 1016.2 221.6 1012.2 221.9 1008.2 222.2 1004.3 222.5 1000.3 222.8 996.3 223.2 992.3 223.5 988.3 223.9 984.3 224.2 980.3 224.6 976.3 225.0 972.3 225.4 968.4 225.8 964.4 226.2 960.4 226.6 956.4 227.0 952.4 227.5 948.4 227.9 944.5 228.3 940.5 228.8 936.5 229.3 932.5 229.8 928.5 230.3 924.6 230.8 920.6 231.3 916.6 231.8 912.6 232.3 908.6 232.8 904.7 233.4 900.7 235.0 897.1 236.6 893.4 238.2 889.8 239.7 886.1 241.2 882.3 242.7 878.6 244.2 874.9 245.8 871.2 247.3 867.5 248.9 863.8 250.5 860.1 252.2 856.4 253.9 852.8 255.7 849.3 257.6 845.7 259.5 842.3 261.5 838.9 263.7 835.5 266.0 832.3 268.5 829.2 271.1 826.2 273.9 823.4 276.9 820.6 280.0 818.0 283.1 815.4 286.4 813.0 289.6 810.6 292.9 808.3 296.3 806.0 299.6 803.8 303.0 801.7 306.5 799.7 309.9 797.7 313.4 795.7 316.9 793.9 320.5 792.0 324.0 790.3 327.6 788.6 331.2 786.9 334.9 785.3 338.5 783.7 342.2 782.2 345.9 780.7 349.6 779.3 353.4 777.9 357.1 776.6 360.9 775.3 364.7 774.0 368.5 772.7 372.3 771.5 376.1 770.3 380.0 769.2 383.8 768.1 387.7 767.0 391.5 765.9 395.4 764.8 399.3 763.8 403.1 762.7 407.0 761.7 410.9 760.7 414.8 759.8 418.7 758.8 422.6 757.8 426.5 756.9 430.4 756.0 434.3 755.0 438.2 754.1 442.1 753.2 446.0 752.4 449.9 751.5 453.8 750.6 457.7 749.8 461.6 749.0 465.6 748.1 469.5 747.3 473.4 746.5 477.3 745.7 481.2 744.9 485.2 744.2 489.1 743.4 493.0 742.7 496.9 741.9 500.9 741.2 504.8 740.5 508.8 739.7 512.7 739.0 516.6 738.3 520.6 737.6 524.5 737.0 528.5 736.3 532.4 735.6 536.3 735.0 540.3 734.3 544.2 733.7 548.2 733.1 552.1 732.4 556.1 731.8 560.0 731.2 564.0 730.6 568.0 730.0 571.9 729.4 575.9 728.8 579.8 728.3 583.8 727.7 587.7 727.1 591.7 726.6 595.7 726.0 599.6 725.4 603.6 724.9 607.6 724.4 611.5 723.8 615.5 723.3 619.4 722.8 623.4 722.2 627.4 721.7 631.3 721.2 635.3 720.7 639.3 720.2 643.3 719.7 647.2 719.2 651.2 718.7 655.2 718.2 659.1 717.7 663.1 717.2 667.1 716.8 671.0 716.3 675.0 715.8 679.0 715.3 683.0 714.9 686.9 714.4 690.9 713.9 694.9 713.5 698.9 713.0 702.8 712.6 706.8 712.1 710.8 711.7 714.8 711.2 718.7 710.8 722.7 710.3 726.7 709.9 730.7 709.4 734.6 709.0 738.6 708.6 742.6 708.1 746.6 707.7 750.6 707.3 754.5 706.8 758.5 706.4 762.5 706.0 766.5 705.5 770.4 705.1 774.4 704.7 778.4 704.3 782.4 703.8 786.4 703.4 790.3 703.0 794.3 702.6 798.3 702.1 802.3 701.7 806.3 701.3 810.2 700.9 814.2 700.4 818.2 700.0 822.2 699.6 826.2 699.1 830.1 698.7 834.1 698.3 838.1 697.9 842.1 697.4 846.0 697.0 850.0 696.6 854.0 696.1 858.0 695.7 862.0 695.3 865.9 694.8 869.9 694.4 873.9 694.0 877.9 693.5 881.8 693.1 885.8 692.6 889.8 692.2 893.8 691.7 897.7 691.3 901.7 690.8 905.7 690.4 909.7 689.9 913.6 689.5 917.6 689.0 921.6 688.5 925.6 688.1 929.5 687.6 933.5 687.1 937.5 686.6 941.5 686.2 945.4 685.7 949.4 685.2 953.4 684.7 957.3 684.2 961.3 683.7 965.3 683.2 969.2 682.7 973.2 682.2 977.2 681.7 981.2 681.2 985.1 680.6 989.1 680.1 993.0 679.6 997.0 679.1 1001.0 678.5 1004.9 678.0 1008.9 677.4 1012.9 676.9 1016.8 676.3 1020.8 675.8 1024.8 675.2 1028.7 674.6 1032.7 674.1 1036.6 673.5 1040.6 672.9 1044.6 672.4 1048.5 671.8 1052.5 671.2 1056.4 670.6 1060.4 670.1 1064.4 669.5 1068.3 668.9 1072.3 668.3 1076.2 667.8 1080.2 667.2 1084.2 666.6 1088.1 666.1 1092.1 665.5 1096.0 664.9 1100.0 664.4 1104.0 663.8 1107.9 663.3 1111.9 662.7 1115.9 662.2 1119.8 661.6 1123.8 661.1 1127.8 660.6 1131.7 660.0 1135.7 659.5 1139.7 659.0 1143.6 658.5 1147.6 658.0 1151.6 657.5 1155.5 657.0 1159.5 656.6 1163.5 656.1 1167.5 655.6 1171.4 655.2 1175.4 654.7 1179.4 654.3 1183.4 653.9 1187.3 653.5 1191.3 653.0 1195.3 652.6 1199.3 652.2 1203.3 651.8 1207.3 651.5 1211.2 651.1 1215.2 650.7 1219.2 650.3 1223.2 649.9 1227.2 649.6 1231.2 649.2 1235.1 648.8 1239.1 648.4 1243.1 648.1 1247.1 647.7 1251.1 647.3 1255.1 646.9 1259.0 646.5 1263.0 646.1 1267.0 645.7 1271.0 645.3 1275.0 644.9 1278.9 644.5 1282.9 644.0 1286.9 643.6 1290.9 643.1 1294.9 642.7 1298.8 642.2 1302.8 641.8 1306.8 641.3 1310.7 640.8 1314.7 640.3 1318.7 639.9 1322.7 639.4 1326.6 638.9 1330.6 638.4 1334.6 637.8 1338.5 637.3 1342.5 636.8 1346.4 636.3 1350.4 635.7 1354.4 635.2 1358.3 634.7 1362.3 634.1 1366.3 633.6 1370.2 633.0 1374.2 632.4 1378.1 631.9 1382.1 631.3 1386.1 630.7 1390.0 630.1 1394.0 629.6 1397.9 629.0 1401.9 628.4 1405.8 627.8 1409.8 627.2 1413.7 626.6 1417.7 626.0 1421.6 625.3 1425.6 624.7 1429.6 624.1 1433.5 623.5 1437.5 622.8 1441.4 622.2 1445.4 621.6 1449.3 620.9 1453.3 620.3 1457.2 619.6 1461.1 619.0 1465.1 618.3 1469.0 617.7 1473.0 617.0 1476.9 616.4 1480.9 615.7 1484.8 615.0 1488.8 614.4 1492.7 613.7 1496.7 613.0 1500.6 612.4 1504.6 611.7 1508.5 611.0 1512.4 610.3 1516.4 609.6 1520.3 609.0 1524.3 608.3 1528.2 607.6 1532.2 606.9 1536.1 606.2 1540.0 605.5 1544.0 604.8 1547.9 604.1 1551.9 603.4 1555.8 602.7 1559.7 602.0 1563.7 601.3 1567.6 600.6 1571.6 599.9 1575.5 599.2 1579.5 598.5 1583.4 597.8 1587.3 597.1 1591.3 596.4 1595.2 595.7 1599.2 595.0 1603.1 594.3 1607.0 593.6 1611.0 592.9 1614.9 592.2 1618.9 591.5 1622.8 590.8 1626.7 590.1 1630.7 589.4 1634.6 588.7 1638.6 588.0 1642.5 587.2 1646.4 586.5 1650.4 585.8 1654.3 585.1 1658.2 584.4 1662.2 583.6 1666.1 582.9 1670.1 582.2 1674.0 581.5 1677.9 580.7 1681.9 580.0 1685.8 579.3 1689.7 578.5 1693.7 577.8 1697.6 577.0 1701.5 576.3 1705.5 575.6 1709.4 574.8 1713.3 574.1 1717.2 573.3 1721.2 572.5 1725.1 571.8 1729.0 571.0 1733.0 570.3 1736.9 569.5 1740.8 568.7 1744.7 567.9 1748.7 567.2 1752.6 566.4 1756.5 565.6 1760.4 564.8 1764.3 564.0 1768.3 563.2 1772.2 562.4 1776.1 561.6 1780.0 560.8 1783.9 560.0 1787.9 559.2 1791.8 558.3 1795.7 557.5 1799.6 556.7 1803.5 555.9 1807.4 555.0 1811.3 554.2 1815.2 553.3 1819.1 552.5 1823.0 551.6 1827.0 550.7 1830.9 549.9 1834.8 549.0 1838.6 548.1 1842.5 547.2 1846.4 546.3 1850.3 545.4 1854.2 544.5 1858.1 543.5 1862.0 542.6 1865.9 541.6 1869.7 540.7 1873.6 539.7 1877.5 538.7 1881.4 537.7 1885.2 536.7 1889.1 535.7 1892.9 534.6 1896.8 533.6 1900.6 532.5 1904.5 531.4 1908.3 530.3 1912.2 529.2 1916.0 528.1 1919.8 526.9 1923.7 525.8 1927.5 524.6 1931.3 523.4 1935.1 522.2 1938.9 521.0 1942.7 519.7 1946.5 518.5 1950.3 517.2 1954.1 515.9 1957.9 514.6 1961.6 513.2 1965.4 511.9 1969.2 510.5 1972.9 509.1 1976.7 507.6 1980.4 506.2 1984.1 504.7 1987.9 503.2 1991.6 501.7 1995.3 500.2 1999.0 498.7 2002.7 497.1 2006.4 495.5 2010.1 493.9 2013.7 492.3 2017.4 490.7 2021.1 489.0 2024.7 487.3 2028.3 485.7 2032.0 484.0 2035.6 482.2 2039.2 480.5 2042.8 478.7 2046.3 477.0 2049.9 475.2 2053.5 473.4 2057.0 471.6 2060.6 469.7 2064.1 467.9 2067.6 466.0 2071.1 464.2 2074.6 462.3 2078.1 460.4 2081.6 458.4 2085.1 456.5 2088.6 454.6 2092.0 452.6 2095.5 450.6 2099.0 448.7 2102.4 446.7 2105.9 444.6 2109.3 442.6 2112.8 440.6 2116.2 438.5 2119.7 436.5 2123.1 434.4 2126.6 432.3 2130.0 430.2 2165.3 360.0" stroke="#0000FF"/>
<path d="M2165.3 360.0L2085.3 423.3 2081.7 425.0 2078.1 426.7 2074.5 428.5 2070.9 430.3 2067.3 432.1 2063.7 434.0 2060.2 435.8 2056.7 437.7 2053.1 439.5 2049.6 441.4 2046.0 443.3 2042.5 445.2 2039.0 447.1 2035.5 449.0 2031.9 450.8 2028.4 452.7 2024.8 454.5 2021.3 456.4 2017.7 458.2 2014.2 460.0 2010.6 461.8 2007.0 463.5 2003.4 465.2 1999.8 466.9 1996.2 468.6 1992.5 470.2 1988.9 471.8 1985.2 473.4 1981.5 474.9 1977.8 476.4 1974.1 477.9 1970.4 479.4 1966.7 480.8 1962.9 482.2 1959.2 483.6 1955.4 485.0 1951.6 486.3 1947.8 487.6 1944.1 488.9 1940.3 490.2 1936.5 491.5 1932.6 492.7 1928.8 494.0 1925.0 495.2 1921.2 496.4 1917.4 497.6 1913.5 498.8 1909.7 499.9 1905.8 501.1 1902.0 502.3 1898.2 503.4 1894.3 504.5 1890.5 505.7 1886.6 506.8 1882.8 507.9 1878.9 509.0 1875.1 510.1 1871.2 511.2 1867.3 512.3 1863.5 513.4 1859.6 514.5 1855.8 515.6 1851.9 516.6 1848.0 517.7 1844.2 518.7 1840.3 519.8 1836.4 520.8 1832.5 521.9 1828.7 522.9 1824.8 523.9 1820.9 524.9 1817.0 525.9 1813.2 526.9 1809.3 527.9 1805.4 528.9 1801.5 529.9 1797.6 530.9 1793.7 531.9 1789.9 532.8 1786.0 533.8 1782.1 534.7 1778.2 535.7 1774.3 536.6 1770.4 537.6 1766.5 538.5 1762.6 539.4 1758.7 540.4 1754.8 541.3 1750.9 542.2 1747.0 543.1 1743.1 544.0 1739.2 544.9 1735.3 545.8 1731.4 546.7 1727.5 547.6 1723.6 548.4 1719.7 549.3 1715.8 550.2 1711.9 551.0 1707.9 551.9 1704.0 552.8 1700.1 553.6 1696.2 554.5 1692.3 555.3 1688.4 556.1 1684.5 557.0 1680.5 557.8 1676.6 558.6 1672.7 559.4 1668.8 560.3 1664.9 561.1 1660.9 561.9 1657.0 562.7 1653.1 563.5 1649.2 564.3 1645.2 565.1 1641.3 565.9 1637.4 566.6 1633.5 567.4 1629.5 568.2 1625.6 569.0 1621.7 569.7 1617.7 570.5 1613.8 571.3 1609.9 572.0 1605.9 572.8 1602.0 573.5 1598.1 574.3 1594.1 575.0 1590.2 575.8 1586.3 576.5 1582.3 577.3 1578.4 578.0 1574.4 578.7 1570.5 579.5 1566.6 580.2 1562.6 580.9 1558.7 581.6 1554.7 582.4 1550.8 583.1 1546.9 583.8 1542.9 584.5 1539.0 585.2 1535.0 585.9 1531.1 586.6 1527.1 587.3 1523.2 588.0 1519.3 588.7 1515.3 589.4 1511.4 590.1 1507.4 590.7 1503.5 591.4 1499.5 592.1 1495.6 592.8 1491.6 593.4 1487.7 594.1 1483.7 594.7 1479.8 595.4 1475.8 596.1 1471.9 596.7 1467.9 597.3 1464.0 598.0 1460.0 598.6 1456.0 599.3 1452.1 599.9 1448.1 600.5 1444.2 601.1 1440.2 601.8 1436.3 602.4 1432.3 603.0 1428.3 603.6 1424.4 604.2 1420.4 604.8 1416.5 605.4 1412.5 606.0 1408.5 606.6 1404.6 607.2 1400.6 607.7 1396.6 608.3 1392.7 608.9 1388.7 609.4 1384.8 610.0 1380.8 610.6 1376.8 611.1 1372.9 611.7 1368.9 612.2 1364.9 612.8 1361.0 613.3 1357.0 613.8 1353.0 614.4 1349.0 614.9 1345.1 615.4 1341.1 615.9 1337.1 616.4 1333.2 616.9 1329.2 617.4 1325.2 617.9 1321.2 618.4 1317.3 618.9 1313.3 619.4 1309.3 619.9 1305.3 620.4 1301.3 620.8 1297.4 621.3 1293.4 621.7 1289.4 622.2 1285.4 622.6 1281.4 623.1 1277.5 623.5 1273.5 624.0 1269.5 624.4 1265.8 626.2 1262.1 628.0 1258.4 629.6 1254.7 631.2 1250.9 632.8 1247.2 634.2 1243.4 635.6 1239.6 637.0 1235.8 638.3 1232.0 639.5 1228.1 640.7 1224.3 641.9 1220.4 642.9 1216.6 644.0 1212.7 645.0 1208.8 646.0 1204.9 646.9 1201.0 647.8 1197.1 648.6 1193.1 649.4 1189.2 650.2 1185.3 651.0 1181.3 651.7 1177.4 652.4 1173.4 653.1 1169.4 653.7 1165.5 654.4 1161.5 655.0 1157.5 655.6 1153.5 656.2 1149.6 656.8 1145.6 657.4 1141.6 658.0 1137.6 658.6 1133.6 659.2 1129.7 659.8 1125.7 660.4 1121.7 661.0 1117.7 661.6 1113.8 662.2 1109.8 662.8 1105.8 663.5 1101.9 664.2 1097.9 664.9 1093.9 665.6 1090.0 666.3" stroke="#0000FF"/>
<path d="M213.5 1245.0L213.5 1241.0 213.6 1237.0 213.6 1233.0 213.7 1229.0 213.7 1225.0 213.7 1221.0 213.7 1217.0 213.8 1213.0 213.8 1209.0 213.8 1205.0 213.8 1200.9 213.8 1196.9 213.8 1192.9 213.9 1188.9 213.9 1184.9 213.9 1180.9 213.9 1176.9 213.9 1172.9 213.9 1168.9 213.9 1164.9 213.9 1160.9 213.9 1156.9 213.9 1152.8 213.9 1148.8 213.9 1144.8 213.9 1140.8 213.9 1136.8 213.9 1132.8 213.9 1128.8 213.9 1124.8 213.9 1120.7 213.9 1116.7 213.9 1112.7 213.9 1108.7 213.8 1104.7 213.8 1100.7 213.8 1096.7 213.8 1092.7 213.8 1088.6 213.8 1084.6 213.8 1080.6 213.8 1076.6 213.8 1072.6 213.9 1068.6 213.9 1064.6 213.9 1060.5 213.9 1056.5 213.9 1052.5 213.9 1048.5 213.9 1044.5 213.9 1040.5 213.9 1036.5 214.0 1032.5 214.0 1028.4 214.0 1024.4 214.0 1020.4 214.1 1016.4 214.1 1012.4 214.1 1008.4 214.2 1004.4 214.2 1000.3 214.3 996.3 214.3 992.3 214.4 988.3 214.4 984.3 214.5 980.3 214.6 976.3 214.6 972.3 214.7 968.2 214.8 964.2 214.9 960.2 214.9 956.2 215.0 952.2 215.1 948.2 215.2 944.2 215.3 940.2 215.4 936.2 215.5 932.2 215.6 928.1 215.8 924.1 215.9 920.1 216.0 916.1 216.2 912.1 216.3 908.1 216.5 904.1 216.6 900.1 216.8 896.1 216.9 892.1 217.1 888.1 217.3 884.1 217.5 880.1 217.7 876.1 217.9 872.1 218.1 868.1 218.3 864.1 218.5 860.1 218.7 856.1 219.0 852.1 219.2 848.1 219.4 844.1 219.7 840.1 220.0 836.1 220.2 832.1 220.5 828.1 220.8 824.1 221.1 820.1 221.4 816.1 221.7 812.1 222.0 808.1 222.3 804.1 222.7 800.1 223.0 796.1 223.3 792.1 223.7 788.1 224.1 784.1 224.4 780.1 224.8 776.1 225.2 772.2 225.6 768.2 226.0 764.2 226.5 760.2 226.9 756.2 227.3 752.2 227.8 748.2 228.3 744.3 228.7 740.3 229.2 736.3 229.7 732.3 230.2 728.3 230.7 724.4 231.2 720.4 231.8 716.4 232.3 712.4 232.9 708.4 233.4 704.5 234.0 700.5 236.0 697.1 237.9 693.6 239.6 690.0 241.2 686.4 242.8 682.7 244.4 678.9 245.9 675.1 247.4 671.4 248.9 667.6 250.5 663.9 252.2 660.2 254.0 656.5 255.9 653.0 258.0 649.6 260.2 646.3 262.6 643.0 265.0 639.9 267.6 636.9 270.3 633.9 273.1 631.1 276.0 628.3 279.0 625.6 282.1 623.0 285.2 620.5 288.4 618.0 291.6 615.7 294.9 613.4 298.2 611.1 301.5 609.0 304.9 606.9 308.3 604.9 311.7 602.9 315.2 601.0 318.7 599.2 322.2 597.4 325.8 595.7 329.4 594.1 333.0 592.5 336.7 590.9 340.4 589.4 344.1 587.9 347.8 586.5 351.5 585.2 355.3 583.9 359.1 582.6 362.9 581.3 366.7 580.1 370.5 579.0 374.4 577.9 378.3 576.8 382.1 575.7 386.0 574.7 389.9 573.7 393.8 572.7 397.8 571.7 401.7 570.8 405.6 569.9 409.6 569.0 413.5 568.1 417.5 567.3 421.4 566.4 425.4 565.6 429.3 564.8 433.3 563.9 437.2 563.1 441.2 562.3 445.1 561.6 449.1 560.8 453.0 560.0 457.0 559.3 460.9 558.5 464.9 557.8 468.8 557.0 472.8 556.3 476.7 555.6 480.7 554.9 484.6 554.2 488.6 553.5 492.5 552.8 496.5 552.2 500.4 551.5 504.4 550.8 508.3 550.2 512.3 549.5 516.2 548.9 520.2 548.3 524.1 547.7 528.1 547.0 532.0 546.4 536.0 545.8 540.0 545.2 543.9 544.6 547.9 544.0 551.8 543.5 555.8 542.9 559.7 542.3 563.7 541.8 567.6 541.2 571.6 540.6 575.5 540.1 579.5 539.5 583.5 539.0 587.4 538.5 591.4 537.9 595.3 537.4 599.3 536.9 603.2 536.4 607.2 535.8 611.1 535.3 615.1 534.8 619.1 534.3 623.0 533.8 627.0 533.3 630.9 532.8 634.9 532.3 638.9 531.8 642.8 531.3 646.8 530.8 650.8 530.3 654.7 529.9 658.7 529.4 662.6 528.9 666.6 528.4 670.6 527.9 674.5 527.5 678.5 527.0 682.5 526.5 686.4 526.0 690.4 525.6 694.4 525.1 698.3 524.6 702.3 524.1 706.3 523.7 710.2 523.2 714.2 522.7 718.2 522.2 722.2 521.8 726.1 521.3 730.1 520.8 734.1 520.3 738.1 519.9 742.0 519.4 746.0 518.9 750.0 518.4 754.0 518.0 757.9 517.5 761.9 517.0 765.9 516.5 769.9 516.1 773.8 515.6 777.8 515.1 781.8 514.6 785.8 514.2 789.7 513.7 793.7 513.2 797.7 512.7 801.7 512.2 805.7 511.8 809.6 511.3 813.6 510.8 817.6 510.3 821.6 509.8 825.6 509.4 829.5 508.9 833.5 508.4 837.5 507.9 841.5 507.4 845.5 506.9 849.4 506.4 853.4 505.9 857.4 505.4 861.4 505.0 865.4 504.5 869.3 504.0 873.3 503.5 877.3 503.0 881.3 502.5 885.2 502.0 889.2 501.5 893.2 501.0 897.2 500.5 901.2 500.0 905.1 499.5 909.1 498.9 913.1 498.4 917.1 497.9 921.0 497.4 925.0 496.9 929.0 496.4 933.0 495.9 936.9 495.4 940.9 494.8 944.9 494.3 948.9 493.8 952.8 493.3 956.8 492.7 960.8 492.2 964.8 491.7 968.7 491.2 972.7 490.6 976.7 490.1 980.6 489.5 984.6 489.0 988.6 488.5 992.5 487.9 996.5 487.4 1000.5 486.8 1004.4 486.3 1008.4 485.7 1012.4 485.2 1016.3 484.6 1020.3 484.1 1024.3 483.5 1028.2 483.0 1032.2 482.4 1036.1 481.8 1040.1 481.3 1044.1 480.7 1048.0 480.1 1052.0 479.6 1055.9 479.0 1059.9 478.4 1063.9 477.9 1067.8 477.3 1071.8 476.7 1075.7 476.1 1079.7 475.6 1083.7 475.0 1087.6 474.4 1091.6 473.9 1095.5 473.3 1099.5 472.7 1103.4 472.1 1107.4 471.6 1111.3 471.0 1115.3 470.4 1119.3 469.9 1123.2 469.3 1127.2 468.7 1131.1 468.1 1135.1 467.6 1139.0 467.0 1143.0 466.4 1147.0 465.9 1150.9 465.3 1154.9 464.8 1158.8 464.2 1162.8 463.6 1166.8 463.1 1170.7 462.5 1174.7 462.0 1178.6 461.4 1182.6 460.8 1186.6 460.3 1190.5 459.7 1194.5 459.2 1198.4 458.7 1202.4 458.1 1206.4 457.6 1210.3 457.0 1214.3 456.5 1218.3 456.0 1222.2 455.4 1226.2 454.9 1230.2 454.4 1234.1 453.9 1238.1 453.4 1242.1 452.8 1246.0 452.3 1250.0 451.8 1254.0 451.3 1258.0 450.8 1261.9 450.3 1265.9 449.8 1269.9 449.3 1273.9 448.8 1277.8 448.4 1281.8 447.9 1285.8 447.4 1289.8 446.9 1293.8 446.5 1297.7 446.0 1301.7 445.5 1305.7 445.0 1309.7 444.6 1313.7 444.1 1317.7 443.6 1321.6 443.2 1325.6 442.7 1329.6 442.2 1333.6 441.8 1337.6 441.3 1341.6 440.8 1345.5 440.3 1349.5 439.9 1353.5 439.4 1357.5 438.9 1361.5 438.4 1365.4 437.9 1369.4 437.4 1373.4 436.9 1377.4 436.4 1381.3 435.9 1385.3 435.3 1389.3 434.8 1393.3 434.3 1397.2 433.7 1401.2 433.2 1405.2 432.6 1409.1 432.0 1413.1 431.5 1417.0 430.9 1421.0 430.3 1424.9 429.7 1428.9 429.1 1432.8 428.4 1436.8 427.8 1440.7 427.2 1444.7 426.5 1448.6 425.8 1452.6 425.2 1456.5 424.5 1460.4 423.8 1464.4 423.0 1468.3 422.3 1472.2 421.6 1476.1 420.8 1480.1 420.1 1484.0 419.3 1487.9 418.6 1491.8 417.8 1495.7 417.0 1499.6 416.3 1503.6 415.5 1507.5 414.7 1511.4 413.9 1515.3 413.1 1519.2 412.3 1523.1 411.5 1527.1 410.7 1531.0 409.9 1534.9 409.1 1538.8 408.3 1542.7 407.5 1546.7 406.8 1550.6 406.0 1554.5 405.2 1558.4 404.4 1562.4 403.7 1566.3 402.9 1570.2 402.1 1574.1 401.4 1578.1 400.6 1582.0 399.9 1585.9 399.1 1589.9 398.4 1593.8 397.6 1597.8 396.9 1601.7 396.1 1605.6 395.4 1609.6 394.6 1613.5 393.9 1617.5 393.1 1621.4 392.4 1625.3 391.7 1629.3 390.9 1633.2 390.2 1637.2 389.4 1641.1 388.7 1645.1 388.0 1649.0 387.2 1652.9 386.5 1656.9 385.7 1660.8 385.0 1664.8 384.2 1668.7 383.5 1672.6 382.7 1676.6 382.0 1680.5 381.2 1684.5 380.5 1688.4 379.7 1692.3 378.9 1696.3 378.2 1700.2 377.4 1704.2 376.6 1708.1 375.8 1712.0 375.1 1716.0 374.3 1719.9 373.5 1723.8 372.7 1727.7 371.9 1731.7 371.1 1735.6 370.3 1739.5 369.4 1743.4 368.6 1747.4 367.8 1751.3 366.9 1755.2 366.1 1759.1 365.2 1763.0 364.4 1766.9 363.5 1770.8 362.6 1774.7 361.8 1778.6 360.9 1782.5 360.0 1786.4 359.1 1790.3 358.1 1794.2 357.2 1798.1 356.3 1802.0 355.3 1805.9 354.4 1809.8 353.4 1813.7 352.5 1817.5 351.5 1821.4 350.5 1825.3 349.5 1829.1 348.5 1833.0 347.5 1836.9 346.4 1840.7 345.4 1844.6 344.3 1848.4 343.3 1852.3 342.2 1856.1 341.1 1860.0 340.0 1863.8 338.9 1867.6 337.8 1871.5 336.6 1875.3 335.5 1879.1 334.3 1882.9 333.1 1886.7 331.9 1890.5 330.7 1894.3 329.5 1898.1 328.3 1901.9 327.0 1905.7 325.7 1909.5 324.5 1913.3 323.2 1917.0 321.8 1920.8 320.5 1924.6 319.2 1928.3 317.8 1932.1 316.4 1935.8 315.0 1939.6 313.6 1943.3 312.2 1947.1 310.8 1950.8 309.3 1954.5 307.8 1958.2 306.3 1961.9 304.8 1965.6 303.3 1969.3 301.8 1973.0 300.2 1976.7 298.6 1980.4 297.0 1984.1 295.4 1987.8 293.8 1991.4 292.2 1995.1 290.5 1998.7 288.8 2002.4 287.1 2006.0 285.5 2009.7 283.7 2013.3 282.0 2016.9 280.3 2020.5 278.5 2024.1 276.8 2027.7 275.0 2031.3 273.2 2034.9 271.4 2038.5 269.6 2042.1 267.7 2045.6 265.9 2049.2 264.1 2052.7 262.2 2056.3 260.3 2059.8 258.4 2063.4 256.5 2066.9 254.6 2070.4 252.7 2073.9 250.8 2077.4 248.9 2080.9 246.9 2084.4 245.0 2087.9 243.0 2091.4 241.0 2094.9 239.0 2098.3 237.1 2101.8 235.1 2105.2 233.1 2108.6 231.0 2112.1 229.0 2115.5 227.0 2166.0 149.0" stroke="#008080"/>
<path d="M2166.0 149.0L2081.0 216.5 2077.4 218.3 2073.9 220.1 2070.3 221.9 2066.7 223.7 2063.1 225.5 2059.5 227.3 2056.0 229.1 2052.4 230.9 2048.8 232.7 2045.2 234.5 2041.6 236.3 2038.0 238.1 2034.4 239.9 2030.8 241.6 2027.2 243.4 2023.6 245.2 2020.0 246.9 2016.4 248.7 2012.8 250.4 2009.2 252.1 2005.5 253.8 2001.9 255.5 1998.3 257.2 1994.7 258.9 1991.0 260.6 1987.4 262.3 1983.7 264.0 1980.1 265.6 1976.4 267.2 1972.8 268.9 1969.1 270.5 1965.4 272.1 1961.7 273.7 1958.1 275.2 1954.4 276.8 1950.7 278.3 1947.0 279.8 1943.3 281.4 1939.6 282.8 1935.8 284.3 1932.1 285.8 1928.4 287.2 1924.7 288.7 1920.9 290.1 1917.2 291.5 1913.4 292.9 1909.7 294.3 1905.9 295.6 1902.1 297.0 1898.4 298.3 1894.6 299.7 1890.8 301.0 1887.0 302.3 1883.2 303.5 1879.5 304.8 1875.7 306.1 1871.9 307.3 1868.1 308.6 1864.2 309.8 1860.4 311.0 1856.6 312.2 1852.8 313.4 1849.0 314.6 1845.1 315.7 1841.3 316.9 1837.5 318.1 1833.6 319.2 1829.8 320.3 1825.9 321.4 1822.1 322.5 1818.2 323.6 1814.4 324.7 1810.5 325.8 1806.7 326.9 1802.8 327.9 1798.9 329.0 1795.1 330.0 1791.2 331.0 1787.3 332.1 1783.4 333.1 1779.6 334.1 1775.7 335.1 1771.8 336.1 1767.9 337.0 1764.0 338.0 1760.1 339.0 1756.3 340.0 1752.4 340.9 1748.5 341.9 1744.6 342.8 1740.7 343.7 1736.8 344.7 1732.9 345.6 1729.0 346.5 1725.1 347.4 1721.2 348.3 1717.3 349.2 1713.4 350.1 1709.5 351.0 1705.5 351.8 1701.6 352.7 1697.7 353.6 1693.8 354.4 1689.9 355.3 1686.0 356.1 1682.1 357.0 1678.1 357.8 1674.2 358.7 1670.3 359.5 1666.4 360.3 1662.5 361.2 1658.5 362.0 1654.6 362.8 1650.7 363.6 1646.8 364.4 1642.8 365.2 1638.9 366.0 1635.0 366.8 1631.1 367.6 1627.1 368.4 1623.2 369.1 1619.3 369.9 1615.3 370.7 1611.4 371.5 1607.5 372.2 1603.5 373.0 1599.6 373.8 1595.7 374.5 1591.7 375.3 1587.8 376.0 1583.9 376.8 1579.9 377.5 1576.0 378.3 1572.0 379.0 1568.1 379.8 1564.2 380.5 1560.2 381.3 1556.3 382.0 1552.4 382.7 1548.4 383.5 1544.5 384.2 1540.5 384.9 1536.6 385.7 1532.7 386.4 1528.7 387.1 1524.8 387.8 1520.8 388.6 1516.9 389.3 1512.9 390.0 1509.0 390.7 1505.1 391.5 1501.1 392.2 1497.2 392.9 1493.2 393.6 1489.3 394.4 1485.4 395.1 1481.4 395.8 1477.5 396.5 1473.5 397.3 1469.6 398.0 1465.7 398.7 1461.7 399.4 1457.8 400.2 1453.8 400.9 1449.9 401.6 1446.0 402.3 1442.0 403.1 1438.1 403.8 1434.1 404.5 1430.2 405.3 1426.3 406.0 1422.3 406.7 1418.4 407.4 1414.5 408.2 1410.5 408.9 1406.6 409.6 1402.7 410.3 1398.7 411.1 1394.8 411.8 1390.8 412.5 1386.9 413.2 1383.0 413.9 1379.0 414.6 1375.1 415.3 1371.1 416.0 1367.2 416.7 1363.2 417.4 1359.3 418.1 1355.4 418.7 1351.4 419.4 1347.5 420.1 1343.5 420.7 1339.6 421.4 1335.6 422.0 1331.7 422.7 1327.7 423.3 1323.7 423.9 1319.8 424.5 1315.8 425.1 1311.9 425.7 1307.9 426.3 1303.9 426.9 1300.0 427.5 1296.0 428.0 1292.0 428.6 1288.1 429.1 1284.1 429.7 1280.1 430.2 1276.1 430.7 1272.2 431.2 1268.2 431.7 1264.2 432.1 1260.2 432.6 1256.4 434.1 1252.7 435.6 1248.9 437.1 1245.1 438.5 1241.3 439.9 1237.5 441.3 1233.7 442.6 1229.8 443.9 1226.0 445.1 1222.1 446.3 1218.3 447.5 1214.4 448.6 1210.5 449.8 1206.7 450.9 1202.8 451.9 1198.9 453.0 1195.0 454.0 1191.1 455.0 1187.1 455.9 1183.2 456.9 1179.3 457.8 1175.3 458.7 1171.4 459.6 1167.5 460.4 1163.5 461.2 1159.6 462.1 1155.6 462.9 1151.6 463.6 1147.7 464.4 1143.7 465.2 1139.7 465.9 1135.8 466.6 1131.8 467.4 1127.8 468.1 1123.8 468.8 1119.8 469.4 1115.9 470.1 1111.9 470.8 1107.9 471.5 1103.9 472.1 1099.9 472.8 1095.9 473.4 1091.9 474.1 1088.0 474.7 1084.0 475.4 1080.0 476.0" stroke="#008080"/>
</g>
<g stroke="#000" stroke-width="6.5" fill="none">
<rect x="116" y="37.5" width="2246" height="1667"/>
<line x1="214.5" y1="1701" x2="214.5" y2="1738.0"/>
<line x1="409.7" y1="1701" x2="409.7" y2="1721.0"/>
<line x1="604.9" y1="1701" x2="604.9" y2="1738.0"/>
<line x1="800.1" y1="1701" x2="800.1" y2="1721.0"/>
<line x1="995.3" y1="1701" x2="995.3" y2="1738.0"/>
<line x1="1190.5" y1="1701" x2="1190.5" y2="1721.0"/>
<line x1="1385.7" y1="1701" x2="1385.7" y2="1738.0"/>
<line x1="1580.9" y1="1701" x2="1580.9" y2="1721.0"/>
<line x1="1776.1" y1="1701" x2="1776.1" y2="1738.0"/>
<line x1="1971.3" y1="1701" x2="1971.3" y2="1721.0"/>
<line x1="2166.5" y1="1701" x2="2166.5" y2="1738.0"/>
<line x1="2361.7" y1="1701" x2="2361.7" y2="1721.0"/>
</g>
<g stroke-width="8.5" stroke-linecap="butt">
<line x1="204" y1="113.8" x2="381" y2="113.8" stroke="#008080"/>
<line x1="204" y1="207.3" x2="381" y2="207.3" stroke="#0000FF"/>
<line x1="204" y1="300.6" x2="381" y2="300.6" stroke="#FF0000"/>
<line x1="204" y1="394.2" x2="381" y2="394.2" stroke="#000000"/>
</g>
<g class="sans" font-size="64" fill="#000" stroke="#fff" stroke-width="0.8">
<text transform="translate(394.3,139.7) scale(0.955,1)">1Pb</text>
<text transform="translate(396.2,232.8) scale(0.955,1)">0.5Pb</text>
<text transform="translate(396.2,326.5) scale(0.955,1)">0.2Pb</text>
<text transform="translate(396.2,420.3) scale(0.955,1)">3Mo4Ce/Zr-PILC</text>
</g>
<g class="sans" font-size="64" fill="#000" stroke="#fff" stroke-width="0.8" text-anchor="middle">
<text transform="translate(214.5,1804) scale(0.955,1)">0.0</text>
<text transform="translate(604.9,1804) scale(0.955,1)">0.2</text>
<text transform="translate(995.3,1804) scale(0.955,1)">0.4</text>
<text transform="translate(1385.7,1804) scale(0.955,1)">0.6</text>
<text transform="translate(1776.1,1804) scale(0.955,1)">0.8</text>
<text transform="translate(2166.5,1804) scale(0.955,1)">1.0</text>
</g>
<g fill="#fff">
<rect x="397" y="134.6" width="13.1" height="5.6"/><rect x="414.2" y="134.6" width="12" height="5.6"/>
<rect x="2127" y="1798.6" width="13.1" height="5.6"/><rect x="2143.9" y="1798.6" width="12.3" height="5.6"/>
</g>
<text class="serif" x="881.5" y="1890" font-size="76" fill="#000">Relative pressure (p/p<tspan font-size="45" dy="30">0</tspan><tspan dy="-30">)</tspan></text>
<text class="serif" transform="translate(71.2,1167) rotate(-90)" x="0" y="0" font-size="78" fill="#000">Volume adsorbed(a.u.)</text>
</svg>
</body></html>
